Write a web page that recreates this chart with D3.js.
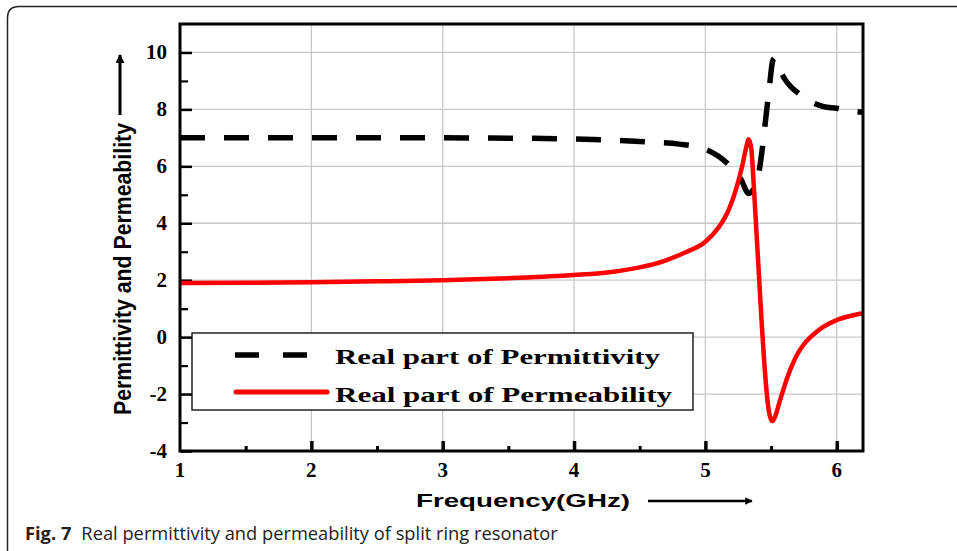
<!DOCTYPE html>
<html>
<head>
<meta charset="utf-8">
<script src="https://cdn.jsdelivr.net/npm/d3@7/dist/d3.min.js"></script>
<style>
  html, body { margin: 0; padding: 0; background: #fff; }
  svg { display: block; }
</style>
</head>
<body>
<svg id="chart" width="957" height="551"></svg>
<script>
// Frequency (GHz) and real part of permittivity
const epsFreq = [1.0, 2.0, 3.0, 3.5, 4.0, 4.3, 4.6, 4.8, 5.0, 5.1, 5.2, 5.27, 5.33, 5.36, 5.40, 5.43, 5.46, 5.49, 5.51, 5.525, 5.55, 5.6, 5.65, 5.7, 5.79, 5.9, 6.0, 6.1, 6.2];
const epsReal = [7.0, 7.0, 7.0, 6.99, 6.96, 6.92, 6.85, 6.78, 6.6, 6.35, 5.95, 5.55, 5.05, 5.15, 5.6, 6.5, 7.7, 8.9, 9.65, 9.8, 9.55, 9.1, 8.8, 8.6, 8.3, 8.1, 8.04, 7.95, 7.9];

// Frequency (GHz) and real part of permeability
const muFreq = [1.0, 1.5, 2.0, 2.5, 3.0, 3.5, 4.0, 4.3, 4.5, 4.7, 4.85, 5.0, 5.1, 5.18, 5.24, 5.28, 5.31, 5.33, 5.35, 5.37, 5.39, 5.41, 5.43, 5.45, 5.47, 5.49, 5.51, 5.53, 5.56, 5.6, 5.65, 5.7, 5.75, 5.8, 5.85, 5.9, 6.0, 6.1, 6.2];
const muReal = [1.90, 1.91, 1.93, 1.96, 2.00, 2.07, 2.18, 2.30, 2.45, 2.70, 2.98, 3.35, 3.85, 4.5, 5.3, 6.0, 6.65, 6.95, 6.6, 5.2, 3.6, 2.0, 0.4, -1.0, -2.1, -2.75, -2.95, -2.8, -2.35, -1.75, -1.1, -0.6, -0.25, 0.0, 0.2, 0.37, 0.6, 0.74, 0.84];

const xTicks = [1, 2, 3, 4, 5, 6];
const xMinorTicks = [1.5, 2.5, 3.5, 4.5, 5.5];
const yTicks = [-4, -2, 0, 2, 4, 6, 8, 10];
const yMinorTicks = [-3, -1, 1, 3, 5, 7, 9];
const legendLabels = ["Real part of Permittivity", "Real part of Permeability"];

const svg = d3.select("#chart");

// outer panel frame (only the top and left edges are in view)
svg.append("path")
  .attr("d", "M7.5,551 L7.5,18 Q7.5,6.5 19,6.5 L957,6.5")
  .attr("fill", "none").attr("stroke", "#222").attr("stroke-width", 1.5);

const L = 180, R = 863, T = 24, B = 451;
const x = d3.scaleLinear().domain([1, 6.2]).range([L, R]);
const y = d3.scaleLinear().domain([-4, 11]).range([B, T]);

// grid
const grid = svg.append("g").attr("stroke", "#c8c8c8").attr("stroke-width", 1.3);
grid.selectAll("line.gx").data(xTicks.slice(1)).join("line")
  .attr("x1", d => x(d)).attr("x2", d => x(d)).attr("y1", T).attr("y2", B);
grid.selectAll("line.gy").data(yTicks.slice(1)).join("line")
  .attr("x1", L).attr("x2", R).attr("y1", d => y(d)).attr("y2", d => y(d));

// axes with inward ticks
const serif = "'Liberation Serif', 'Times New Roman', serif";
const yAxis = svg.append("g").attr("transform", `translate(${L},0)`)
  .call(d3.axisRight(y).tickValues(yTicks).tickSize(12).tickFormat(""));
yAxis.select(".domain").remove();
yAxis.selectAll(".tick line").attr("stroke", "#000").attr("stroke-width", 2.5);
svg.append("g").attr("transform", `translate(${L},0)`)
  .call(d3.axisRight(y).tickValues(yMinorTicks).tickSize(8).tickFormat(""))
  .call(g => g.select(".domain").remove())
  .selectAll(".tick line").attr("stroke", "#000").attr("stroke-width", 2.2);

const xAxis = svg.append("g").attr("transform", `translate(0,${B})`)
  .call(d3.axisTop(x).tickValues(xTicks.slice(1)).tickSize(10).tickFormat(""));
xAxis.select(".domain").remove();
xAxis.selectAll(".tick line").attr("stroke", "#000").attr("stroke-width", 3.5);
svg.append("g").attr("transform", `translate(0,${B})`)
  .call(d3.axisTop(x).tickValues(xMinorTicks).tickSize(5).tickFormat(""))
  .call(g => g.select(".domain").remove())
  .selectAll(".tick line").attr("stroke", "#000").attr("stroke-width", 3);

// tick labels
svg.append("g").selectAll("text").data(yTicks).join("text")
  .attr("x", 167).attr("y", d => y(d) + 7)
  .attr("text-anchor", "end")
  .style("font-family", serif).style("font-weight", "bold").style("font-size", "21px")
  .text(d => d);
svg.append("g").selectAll("text").data(xTicks).join("text")
  .attr("x", d => x(d)).attr("y", 477)
  .attr("text-anchor", "middle")
  .style("font-family", serif).style("font-weight", "bold").style("font-size", "21px")
  .text(d => d);

// curves
svg.append("clipPath").attr("id", "plotclip")
  .append("rect").attr("x", L).attr("y", T).attr("width", R - L).attr("height", B - T);

const line = d3.line().x(d => x(d[0])).y(d => y(d[1])).curve(d3.curveMonotoneX);
const muData = muFreq.map((f, i) => [f, muReal[i]]);
const epsData = epsFreq.map((f, i) => [f, epsReal[i]]);

const curves = svg.append("g").attr("clip-path", "url(#plotclip)");
curves.append("path").datum(epsData).attr("d", line)
  .attr("fill", "none").attr("stroke", "#000").attr("stroke-width", 5.5)
  .attr("stroke-dasharray", "25,19");
curves.append("path").datum(muData).attr("d", line)
  .attr("fill", "none").attr("stroke", "#ff0000").attr("stroke-width", 4.5)
  .attr("stroke-linejoin", "round");

// plot frame
svg.append("rect").attr("x", L).attr("y", T).attr("width", R - L).attr("height", B - T)
  .attr("fill", "none").attr("stroke", "#000").attr("stroke-width", 3);

// legend
const lg = svg.append("g");
lg.append("rect").attr("x", 192).attr("y", 333).attr("width", 501).attr("height", 77)
  .attr("fill", "#fff").attr("stroke", "#000").attr("stroke-width", 1.3);
lg.append("line").attr("x1", 235).attr("x2", 310).attr("y1", 355).attr("y2", 355)
  .attr("stroke", "#000").attr("stroke-width", 5.5).attr("stroke-dasharray", "24,24");
lg.append("line").attr("x1", 236).attr("x2", 327).attr("y1", 392).attr("y2", 392)
  .attr("stroke", "#ff0000").attr("stroke-width", 5).attr("stroke-linecap", "round");
const legendWidths = [325, 337];
lg.selectAll("text").data(legendLabels).join("text")
  .attr("x", 335).attr("y", (d, i) => 364 + i * 38)
  .attr("textLength", (d, i) => legendWidths[i]).attr("lengthAdjust", "spacingAndGlyphs")
  .style("font-family", serif).style("font-weight", "bold").style("font-size", "22px")
  .text(d => d);

// axis titles with arrows
const sans = "'Liberation Sans', Arial, sans-serif";
svg.append("text")
  .attr("transform", "translate(131,269) rotate(-90)")
  .attr("text-anchor", "middle")
  .attr("textLength", 292).attr("lengthAdjust", "spacingAndGlyphs")
  .style("font-family", sans).style("font-weight", "bold").style("font-size", "23px")
  .text("Permittivity and Permeability");
svg.append("text")
  .attr("x", 416).attr("y", 507)
  .attr("textLength", 214).attr("lengthAdjust", "spacingAndGlyphs")
  .style("font-family", sans).style("font-weight", "bold").style("font-size", "19px")
  .text("Frequency(GHz)");

const defs = svg.append("defs");
defs.append("marker").attr("id", "arrowhead")
  .attr("viewBox", "0 0 10 10").attr("refX", 9).attr("refY", 5)
  .attr("markerWidth", 4).attr("markerHeight", 3).attr("orient", "auto")
  .attr("markerUnits", "strokeWidth")
  .append("path").attr("d", "M0,0 L10,5 L0,10 Z").attr("fill", "#000");
svg.append("line").attr("x1", 120).attr("x2", 120).attr("y1", 115).attr("y2", 55)
  .attr("stroke", "#000").attr("stroke-width", 3).attr("marker-end", "url(#arrowhead)");
svg.append("line").attr("x1", 648).attr("x2", 752).attr("y1", 501).attr("y2", 501)
  .attr("stroke", "#000").attr("stroke-width", 2.5).attr("marker-end", "url(#arrowhead)");

// caption
const cap = svg.append("text").attr("x", 25).attr("y", 540)
  .style("font-family", "'Open Sans', 'Noto Sans', sans-serif").style("font-size", "18.3px")
  .attr("fill", "#222");
cap.append("tspan").style("font-weight", "bold").text("Fig. 7");
cap.append("tspan").attr("dx", 10).text("Real permittivity and permeability of split ring resonator");
</script>
</body>
</html>
